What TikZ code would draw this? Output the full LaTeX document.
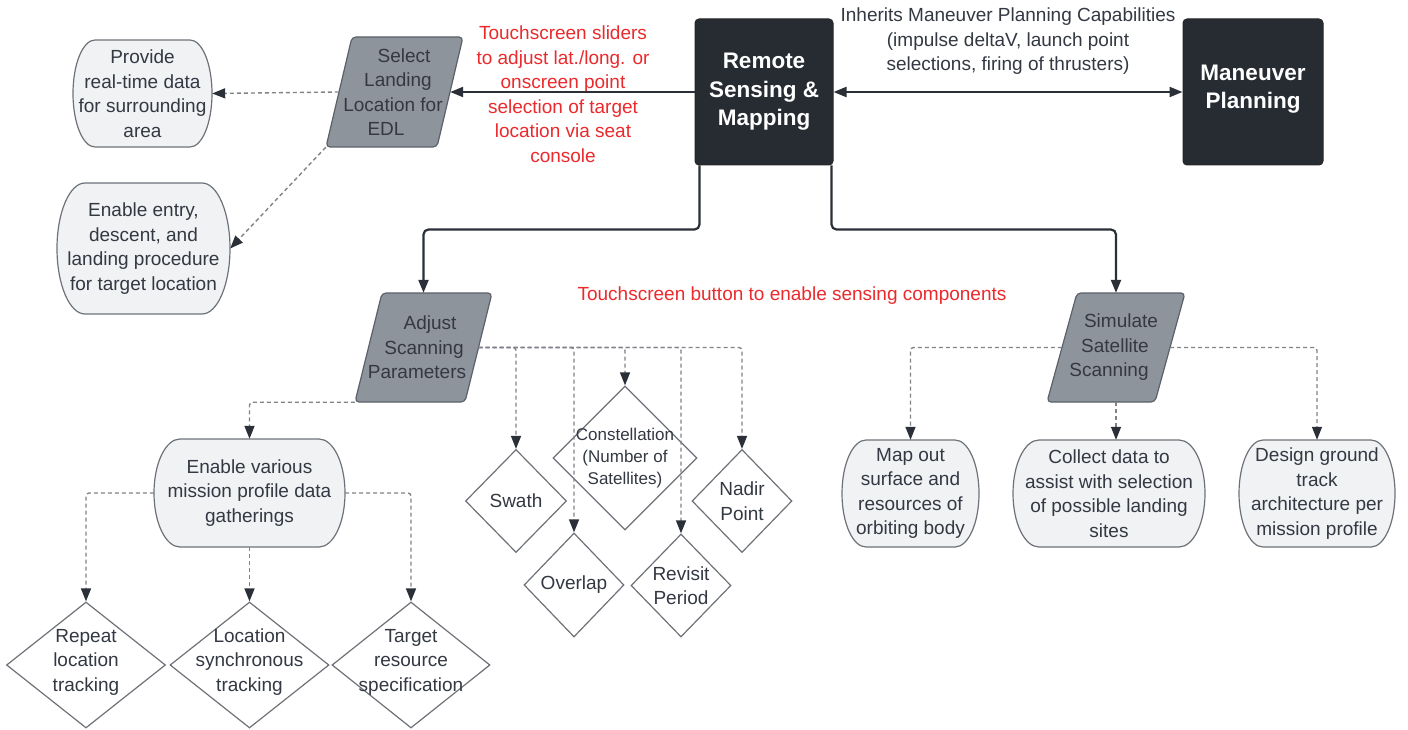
\documentclass[tikz,border=0pt]{standalone}
\usepackage{fontspec}
\setmainfont{Liberation Sans}
\usetikzlibrary{shapes.geometric,arrows.meta,calc}

\definecolor{ink}{HTML}{2B3038}
\definecolor{txt}{HTML}{333842}
\definecolor{darkf}{HTML}{272B32}
\definecolor{paraf}{HTML}{8E949C}
\definecolor{parad}{HTML}{5C6169}
\definecolor{boxf}{HTML}{F1F2F4}
\definecolor{boxd}{HTML}{6E7278}
\definecolor{dashg}{HTML}{80848A}
\definecolor{redt}{HTML}{EA2A2C}

% one line of a slanted box, shifted sideways by half of #1
\newcommand\pl[2]{\hbox to 0pt{\hss\hskip#1\relax #2\hss}}

% rounded terminator: name, x, y, width, height, corner x radius, text
\newcommand\term[7]{%
  \pgfmathsetmacro\hh{#5/2}%
  \draw[termbox] ({#2-#4/2+#6},{#3-#5/2}) -- ({#2+#4/2-#6},{#3-#5/2})
     arc[start angle=90,end angle=-90,x radius=#6pt,y radius=\hh pt]
     -- ({#2-#4/2+#6},{#3+#5/2})
     arc[start angle=270,end angle=90,x radius=#6pt,y radius=\hh pt] -- cycle;
  \node[minimum width=#4pt, minimum height=#5pt] (#1) at (#2,#3) {#7};
}

% slanted input box: name, x, y, width, height, half skew, text
\newcommand\paral[7]{%
  \draw[parabox] ({#2-#4/2+#6},{#3-#5/2}) -- ({#2+#4/2+#6},{#3-#5/2})
     -- ({#2+#4/2-#6},{#3+#5/2}) -- ({#2-#4/2-#6},{#3+#5/2}) -- cycle;
  \node[minimum width=#4pt, minimum height=#5pt, text=txt] (#1) at (#2,#3) {#7};
}

\begin{document}
\begin{tikzpicture}[x=1pt,y=-1pt,
  every node/.style={font=\fontsize{19}{24.5}\selectfont, text=txt, align=center, inner sep=0pt},
  termbox/.style={draw=boxd, fill=boxf, line width=1.2pt},
  parabox/.style={draw=parad, fill=paraf, line width=1.2pt, rounded corners=4pt},
  darkbox/.style={draw=black!85, fill=darkf, rounded corners=4pt, line width=1pt,
    text=white, font=\bfseries\fontsize{22.5}{28.5}\selectfont},
  dia/.style={shape=diamond, draw=boxd, fill=white, line width=1.2pt},
  redlbl/.style={text=redt},
  small/.style={font=\fontsize{17}{22}\selectfont},
  tipd/.style={-{Triangle[length=13pt,width=10pt,color=ink]}},
  solidc/.style={draw=ink, line width=2.2pt, rounded corners=5pt, tipd},
  solidboth/.style={draw=ink, line width=2.2pt,
    {Triangle[length=13pt,width=10pt]}-{Triangle[length=13pt,width=10pt]}},
  dashc/.style={draw=dashg, line width=1.4pt, dash pattern=on 4pt off 3pt,
    rounded corners=3pt, tipd},
]
\fill[white] (0,0) rectangle (1408,730);
\useasboundingbox (0,0) rectangle (1408,730);

% ---- top row ----
\node[darkbox, minimum width=138pt, minimum height=146pt] (rsm) at (764,92)
  {Remote\\Sensing \&\\Mapping};
\node[darkbox, minimum width=140pt, minimum height=146pt] (mp) at (1253,92) {};
\node[text=white, font=\bfseries\fontsize{22.5}{28.5}\selectfont] at ($(mp)+(0,-3)$)
  {Maneuver\\Planning};

\paral{sel}{394.5}{92}{111}{110}{13}
  {\pl{19pt}{Select}\\\pl{7pt}{Landing}\\\pl{-3pt}{Location for}\\\pl{-17pt}{EDL}};
\coordinate (selbl) at ($(sel.south west)+(-13,0)$);

\term{prov}{142.5}{93.5}{139}{107}{22}{Provide\\real-time data\\for surrounding\\area}
\term{entry}{143.5}{248.5}{173}{131}{28}{Enable entry,\\descent, and\\landing procedure\\for target location}

\node[redlbl] (lblslide) at (563,94)
  {Touchscreen sliders\\to adjust lat./long. or\\onscreen point\\selection of target\\location via seat\\console};
\node (lblinh) at (1008,41.5)
  {Inherits Maneuver Planning Capabilities\\(impulse deltaV, launch point\\selections, firing of thrusters)};
\node[redlbl] (lblbtn) at (792,296) {Touchscreen button to enable sensing components};

% ---- scanning parameters branch ----
\paral{adj}{423.5}{347.5}{110}{109}{13.5}
  {\pl{13pt}{Adjust}\\\pl{1pt}{Scanning}\\\pl{-13pt}{Parameters}};
\coordinate (adjbl) at ($(adj.south west)+(-13.5,0)$);

\node[dia, minimum width=101pt, minimum height=103pt] (swath) at (516,501) {};
\node at (swath) {Swath};
\node[dia, minimum width=144pt, minimum height=144pt] (const) at (625,458) {};
\node[small] at (const) {Constellation\\(Number of\\Satellites)};
\node[dia, minimum width=100pt, minimum height=104pt] (overlap) at (574,585) {};
\node at (overlap) {Overlap};
\node[dia, minimum width=100pt, minimum height=103pt] (revisit) at (681,585.5) {};
\node at (revisit) {Revisit\\Period};
\node[dia, minimum width=100pt, minimum height=103pt] (nadir) at (742,501) {};
\node at (nadir) {Nadir\\Point};

\term{enable}{249.5}{493}{191}{108}{26}{Enable various\\mission profile data\\gatherings}

\node[dia, minimum width=159pt, minimum height=126pt] (repeat) at (86,665) {};
\node at ($(repeat)+(0,-3)$) {Repeat\\location\\tracking};
\node[dia, minimum width=159pt, minimum height=126pt] (locsync) at (249.5,665) {};
\node at ($(locsync)+(0,-3)$) {Location\\synchronous\\tracking};
\node[dia, minimum width=158pt, minimum height=126pt] (target) at (411,665) {};
\node at ($(target)+(0,-3)$) {Target\\resource\\specification};

% ---- satellite scanning branch ----
\paral{sim}{1116}{347.5}{108}{109}{15}
  {\pl{10pt}{Simulate}\\\pl{-2pt}{Satellite}\\\pl{-14pt}{Scanning}};

\term{mapout}{910.5}{493.5}{137}{107}{24}{Map out\\surface and\\resources of\\orbiting body}
\term{collect}{1109}{493.5}{192}{107}{26}{Collect data to\\assist with selection\\of possible landing\\sites}
\term{design}{1317}{493.5}{156}{107}{24}{Design ground\\track\\architecture per\\mission profile}

% ---- connectors ----
\draw[solidc] (rsm.west) -- (sel.east);
\draw[solidboth] (rsm.east) -- (mp.west);
\draw[dashc] (sel.west) -- (prov.east);
\draw[dashc] (selbl) -- (entry.east);
\draw[solidc] ([xshift=5pt]rsm.south west) -- ++(0,64) -| (adj.north);
\draw[solidc] ([xshift=-2pt]rsm.south east) -- ++(0,64) -| (sim.north);

\foreach \t in {swath,overlap,const,revisit,nadir}
  \draw[dashc] (adj.east) -| (\t.north);
\draw[dashc] (adjbl) -| (enable.north);
\draw[dashc] (enable.west) -| (repeat.north);
\draw[dashc] (enable.south) -- (locsync.north);
\draw[dashc] (enable.east) -| (target.north);

\draw[dashc] (sim.west) -| (mapout.north);
\draw[dashc] (sim.south) -- (sim.south |- collect.north);
\draw[dashc] (sim.east) -| (design.north);
\end{tikzpicture}
\end{document}
